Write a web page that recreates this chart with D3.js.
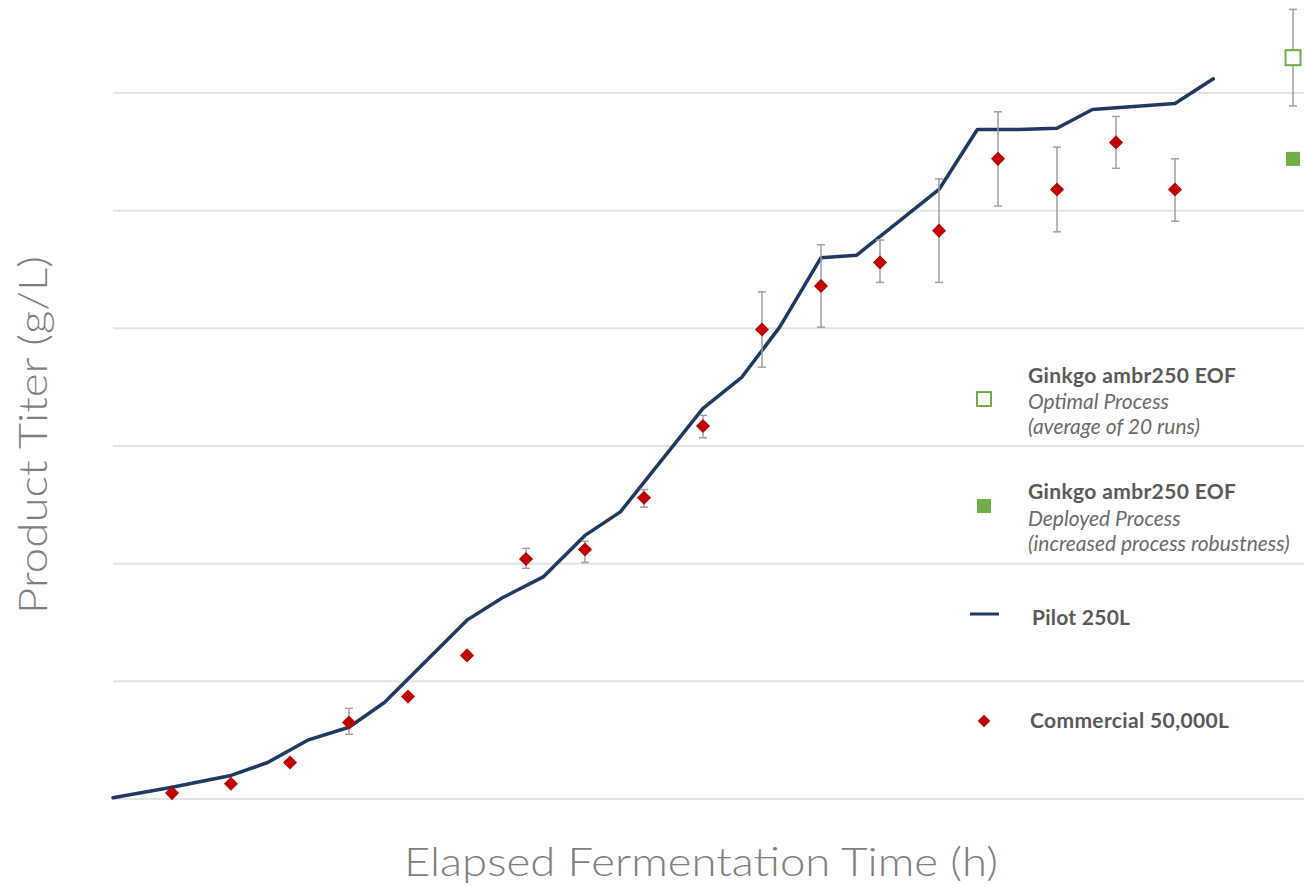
<!DOCTYPE html>
<html><head><meta charset="utf-8">
<script src="https://cdn.jsdelivr.net/npm/d3@7"></script>
<style>body{margin:0;background:#fff;}svg{display:block;}</style>
</head><body>
<svg id="chart" width="1304" height="886"></svg>
<script>
// ---- Data (x in sample-interval units, y in titer units; axes carry no tick labels) ----
const gridValues = [0, 1, 2, 3, 4, 5, 6];

const pilotX = [0, 1, 2, 2.62, 3.3, 4, 4.6, 6, 6.6, 7.3, 8, 8.6, 10, 10.65, 11.3, 12, 12.6, 14, 14.65, 15.35, 16, 16.6, 18, 18.65];
const pilotY = [0.01, 0.10, 0.20, 0.31, 0.50, 0.61, 0.82, 1.52, 1.71, 1.89, 2.24, 2.44, 3.32, 3.58, 4.01, 4.60, 4.62, 5.18, 5.69, 5.69, 5.70, 5.86, 5.91, 6.12];

const commX = [1, 2, 3, 4, 5, 6, 7, 8, 9, 10, 11, 12, 13, 14, 15, 16, 17, 18];
const commY = [0.05, 0.13, 0.31, 0.65, 0.87, 1.22, 2.04, 2.12, 2.56, 3.17, 3.99, 4.36, 4.56, 4.83, 5.44, 5.18, 5.58, 5.18];
const commLo = [null, null, null, 0.55, null, null, 1.96, 2.01, 2.48, 3.07, 3.67, 4.01, 4.39, 4.39, 5.04, 4.82, 5.36, 4.91];
const commHi = [null, null, null, 0.77, null, null, 2.13, 2.19, 2.63, 3.26, 4.31, 4.71, 4.75, 5.27, 5.84, 5.54, 5.80, 5.44];

const optimalX = [20], optimalY = [6.30], optimalLo = [5.89], optimalHi = [6.71];
const deployedX = [20], deployedY = [5.44];

const xTitle = "Elapsed Fermentation Time (h)";
const yTitle = "Product Titer (g/L)";

const legendItems = [
  {type: "open", title: "Ginkgo ambr250 EOF", sub: ["Optimal Process", "(average of 20 runs)"]},
  {type: "filled", title: "Ginkgo ambr250 EOF", sub: ["Deployed Process", "(increased process robustness)"]},
  {type: "line", title: "Pilot 250L", sub: []},
  {type: "diamond", title: "Commercial 50,000L", sub: []}
];

// ---- Colours ----
const navy = "#1f3864", red = "#c00000", green = "#70ad47", errGray = "#a0a0a0", gridGray = "#e3e3e3";

const svg = d3.select("#chart");
const pLeft = 113, pRight = 1304.8, pBottom = 799, pTop = 0;
const x = d3.scaleLinear().domain([0, 20.2]).range([pLeft, pRight]);
const y = d3.scaleLinear().domain([0, 6.79]).range([pBottom, pTop]);

// gridlines
svg.append("g").selectAll("line").data(gridValues).join("line")
  .attr("x1", pLeft).attr("x2", 1304)
  .attr("y1", d => y(d)).attr("y2", d => y(d))
  .attr("stroke", gridGray).attr("stroke-width", 2);

// pilot line
const pilot = pilotX.map((d, i) => [d, pilotY[i]]);
svg.append("path").datum(pilot)
  .attr("d", d3.line().x(d => x(d[0])).y(d => y(d[1])))
  .attr("fill", "none").attr("stroke", navy).attr("stroke-width", 3.5)
  .attr("stroke-linejoin", "round").attr("stroke-linecap", "round");

// error bars helper
function errBars(xs, lo, hi) {
  const g = svg.append("g").attr("stroke", errGray).attr("stroke-width", 1.5);
  xs.forEach((d, i) => {
    if (lo[i] == null) return;
    g.append("line").attr("x1", x(d)).attr("x2", x(d)).attr("y1", y(lo[i])).attr("y2", y(hi[i]));
    [lo[i], hi[i]].forEach(v => g.append("line").attr("x1", x(d) - 4).attr("x2", x(d) + 4).attr("y1", y(v)).attr("y2", y(v)));
  });
}
errBars(commX, commLo, commHi);
errBars(optimalX, optimalLo, optimalHi);

// commercial diamonds
svg.append("g").selectAll("path").data(commX).join("path")
  .attr("d", d3.symbol().type(d3.symbolSquare).size(100))
  .attr("transform", (d, i) => `translate(${x(d)},${y(commY[i])}) rotate(45)`)
  .attr("fill", red);

// ginkgo squares
svg.append("g").selectAll("rect").data(optimalX).join("rect")
  .attr("x", d => x(d) - 7.5).attr("y", (d, i) => y(optimalY[i]) - 7.5)
  .attr("width", 15).attr("height", 15)
  .attr("fill", "#fff").attr("stroke", green).attr("stroke-width", 2);
svg.append("g").selectAll("rect").data(deployedX).join("rect")
  .attr("x", d => x(d) - 7).attr("y", (d, i) => y(deployedY[i]) - 7)
  .attr("width", 14).attr("height", 14).attr("fill", green);

// legend (marker y, title baseline, sub baselines, text x, title width)
const legLayout = [
  {my: 399, ty: 383, sy: [409, 434], tx: 1028, tw: 208},
  {my: 506, ty: 499, sy: [526, 551], tx: 1028, tw: 208},
  {my: 614, ty: 625, sy: [], tx: 1032, tw: 98},
  {my: 721, ty: 728, sy: [], tx: 1030, tw: 199}
];
const lg = svg.append("g");
legendItems.forEach((it, i) => {
  const L = legLayout[i], cy = L.my;
  if (it.type === "open") lg.append("rect").attr("x", 977).attr("y", cy - 7).attr("width", 14).attr("height", 14)
      .attr("fill", "#fff").attr("stroke", green).attr("stroke-width", 2);
  if (it.type === "filled") lg.append("rect").attr("x", 977).attr("y", cy - 7).attr("width", 14).attr("height", 14).attr("fill", green);
  if (it.type === "line") lg.append("line").attr("x1", 970).attr("x2", 999).attr("y1", cy).attr("y2", cy)
      .attr("stroke", navy).attr("stroke-width", 3);
  if (it.type === "diamond") lg.append("path").attr("d", d3.symbol().type(d3.symbolSquare).size(80))
      .attr("transform", `translate(984,${cy}) rotate(45)`).attr("fill", red);
  lg.append("text").attr("x", L.tx).attr("y", L.ty).text(it.title)
    .attr("font-family", "Lato, sans-serif").attr("font-weight", 700).attr("font-size", 21).attr("fill", "#595959")
    .attr("textLength", L.tw).attr("lengthAdjust", "spacing");
  it.sub.forEach((s, j) => lg.append("text").attr("x", L.tx).attr("y", L.sy[j]).text(s)
    .attr("font-family", "Lato, sans-serif").attr("font-style", "italic").attr("font-size", 21).attr("fill", "#6b6b6b"));
});

// axis titles
svg.append("text").attr("x", 404).attr("y", 876).text(xTitle)
  .attr("font-family", "Lato, sans-serif").attr("font-weight", 300).attr("font-size", 40)
  .attr("fill", "#7f7f7f").attr("textLength", 594).attr("lengthAdjust", "spacingAndGlyphs");
svg.append("text").attr("transform", "translate(47,614) rotate(-90)").text(yTitle)
  .attr("font-family", "Lato, sans-serif").attr("font-weight", 300).attr("font-size", 39)
  .attr("fill", "#7f7f7f").attr("textLength", 358).attr("lengthAdjust", "spacingAndGlyphs");
</script>
</body></html>
